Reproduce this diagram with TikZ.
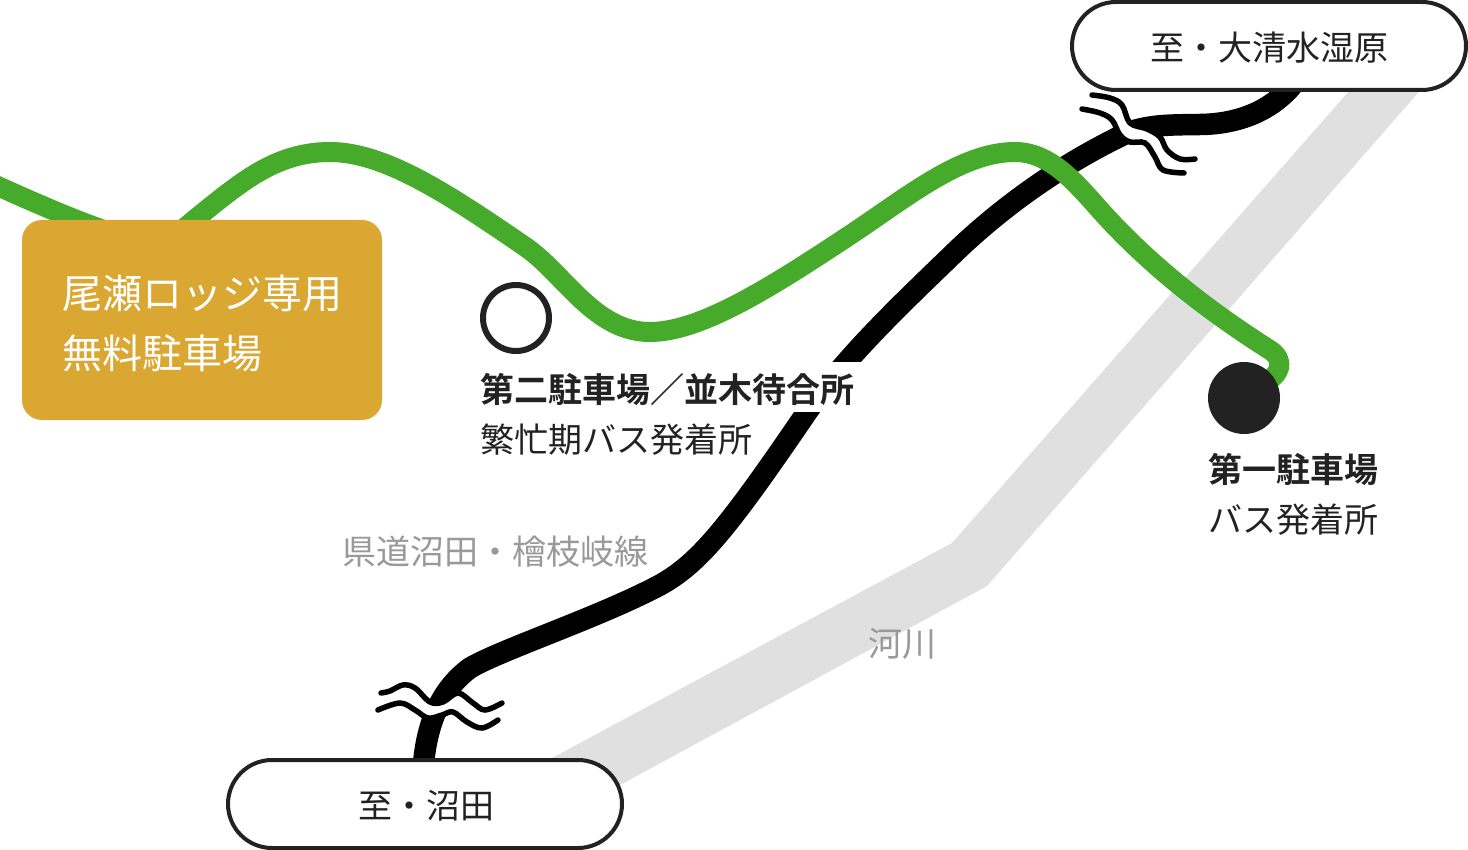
\documentclass[tikz,border=0pt]{standalone}
\usepackage{fontspec}
\setmainfont{Noto Sans CJK JP}
\newfontfamily\cjkbold{Noto Sans CJK JP Bold}
\definecolor{ink}{HTML}{222222}
\definecolor{greenroad}{HTML}{46AA2A}
\definecolor{rivergray}{HTML}{E0E0E0}
\definecolor{labelgray}{HTML}{999999}
\definecolor{lotgold}{HTML}{DAA732}
\tikzset{
  roadline/.style={draw=black,line width=21.5pt,line join=round},
  trail/.style={draw=greenroad,line width=20pt,line join=round},
  wave/.style={draw=black,line width=5.5pt,line cap=round},
  gap/.style={draw=white,line width=13pt},
  pill/.style={draw=ink,line width=4pt,fill=white,rounded corners=44pt,minimum width=394pt,minimum height=88pt,inner sep=0pt,outer sep=0pt},
  pilltext/.style={inner sep=0pt,text=ink,font=\fontsize{34pt}{34pt}\selectfont},
  lottext/.style={anchor=west,inner sep=0pt,text=ink,font=\fontsize{34pt}{34pt}\selectfont},
  lotbold/.style={lottext,font=\fontsize{34pt}{34pt}\selectfont\cjkbold},
  graytext/.style={lottext,text=labelgray},
  whitetext/.style={anchor=west,inner sep=0pt,text=white,font=\fontsize{40pt}{40pt}\selectfont},
}
\begin{document}
\begin{tikzpicture}[x=1pt,y=-1pt]
\useasboundingbox (0,0) rectangle (1468,850);
\fill[white] (0,0) rectangle (1468,850);
\path node[pill,draw=none,fill=none] (numata) at (425,804) {}
      node[pill,draw=none,fill=none] (oshimizu) at (1269,46) {}
      node[circle,minimum size=72pt,inner sep=0pt,outer sep=0pt] (lotone) at (1244,398) {}
      coordinate (westend) at (-20,178);
% river
\fill[rivergray] (1424,86) -- (1353.5,86) -- (952,543) -- (540,764.5) -- (620,785) -- (987,586) -- cycle;
% bus road
\draw[roadline] ([yshift=-10pt,xshift=-2pt]numata.north)
  .. controls (426,725) and (440,690) .. (470,668)
  .. controls (500,650) and (600,617) .. (660,585)
  .. controls (700,563) and (730,525) .. (807,412)
  .. controls (845,358) and (895,310) .. (950,257)
  .. controls (1000,208) and (1060,165) .. (1127,133)
  .. controls (1150,124) and (1175,125) .. (1200,124.5)
  .. controls (1240,124) and (1270,110) .. (1290,88)
  -- ([xshift=36pt,yshift=20pt]oshimizu.south);
% trail
\draw[trail] (westend)
  .. controls (50,210) and (115,238) .. (150,242)
  .. controls (168,243) and (180,232) .. (194,220)
  .. controls (240,183) and (275,152) .. (330,152)
  .. controls (385,152) and (450,195) .. (527,248)
  .. controls (565,275) and (595,332) .. (650,332)
  .. controls (700,332) and (770,288) .. (847,237)
  .. controls (905,199) and (960,152) .. (1015,152)
  .. controls (1050,152) and (1075,182) .. (1100,210)
  .. controls (1150,266) and (1210,312) .. (1270,350)
  .. controls (1285,360) and (1282,375) .. (1262,384)
  -- (lotone.center);
% upper break
\draw[gap] plot[smooth,tension=.6] coordinates {(1087,102) (1105,105) (1117,112) (1125,129) (1138,135) (1152,140) (1161,153) (1172,165) (1190,166)};
\draw[wave] plot[smooth,tension=.6] coordinates {(1092,95) (1110,98) (1122,105) (1130,123) (1147,129) (1160,137) (1167,150) (1180,159) (1195,159)};
\draw[wave] plot[smooth,tension=.6] coordinates {(1082,109) (1100,113) (1112,120) (1120,135) (1130,142) (1145,143) (1155,157) (1163,170) (1184,173)};
% lower break
\draw[gap] plot[smooth,tension=.6] coordinates {(380,702) (400,696) (415,699) (429,710) (443,708) (456,702) (470,713) (484,719) (500,711)};
\draw[wave] plot[smooth,tension=.6] coordinates {(381,693) (390,691) (403,685) (415,688) (430,702) (443,702) (458,693) (473,703) (485,710) (502,703)};
\draw[wave] plot[smooth,tension=.6] coordinates {(378,710) (400,703) (415,710) (428,718) (442,715) (453,712) (467,722) (482,728) (498,720)};
% lots
\node[circle,fill=ink,minimum size=72pt,inner sep=0pt,outer sep=0pt] (lotonedot) at (lotone) {};
\node[circle,draw=ink,line width=6pt,fill=white,minimum size=66pt,inner sep=0pt,outer sep=0pt] (lottwo) at (516,318) {};
\node[fill=lotgold,rounded corners=20pt,minimum width=360pt,minimum height=200pt,inner sep=0pt,outer sep=0pt] (lodge) at (202,320) {};
\node[whitetext] (lodgea) at (62,293) {尾瀬ロッジ専用};
\node[whitetext] (lodgeb) at (62,353) {無料駐車場};
% pills
\node[pill] (numatap) at (numata) {};
\node[pill] (oshimizup) at (oshimizu) {};
\node[pilltext] (numatat) at (426,806) {至・沼田};
\node[pilltext] (oshimizut) at (1269,48) {至・大清水湿原};
% labels
\fill[white] (481,362) rectangle (862,412);
\node[lotbold] (twoa) at (480,390) {第二駐車場／並木待合所};
\node[lottext] (twob) at (480,440) {繁忙期バス発着所};
\node[lotbold] (onea) at (1208,470) {第一駐車場};
\node[lottext] (oneb) at (1208,519.5) {バス発着所};
\node[graytext] (pref) at (342,551.5) {県道沼田・檜枝岐線};
\node[graytext] (riv) at (868,644) {河川};
\end{tikzpicture}
\end{document}
